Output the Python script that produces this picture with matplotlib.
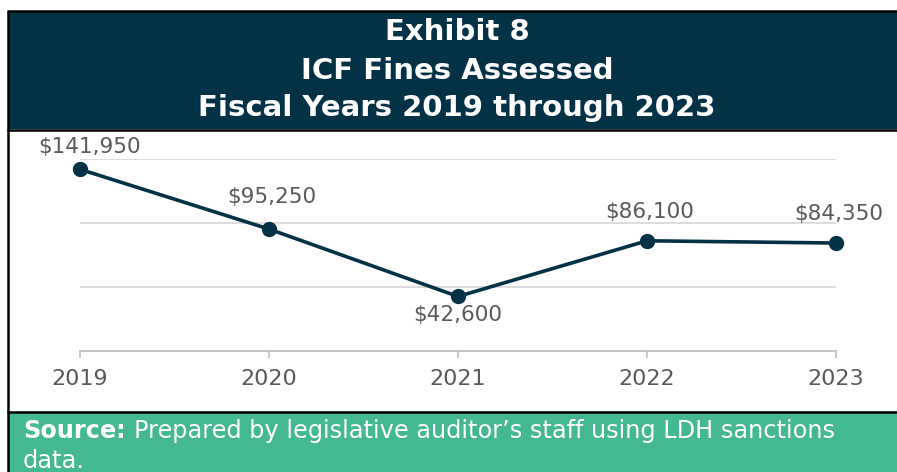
import matplotlib.pyplot as plt
from matplotlib.patches import Rectangle
from matplotlib.lines import Line2D

years = [2019, 2020, 2021, 2022, 2023]
fines = [141950, 95250, 42600, 86100, 84350]
labels = ["$141,950", "$95,250", "$42,600", "$86,100", "$84,350"]
# label offsets in points (dx, dy) relative to each marker
offsets = [(7, 16), (2, 23), (0, -13), (2, 21), (2, 21)]

W, H = 897, 472
navy = "#033247"
green = "#43B892"
grey_txt = "#595959"

fig = plt.figure(figsize=(W / 100, H / 100), dpi=100)

def fx(px):
    return px / W

def fy(py):
    return 1 - py / H

# header band, body, source band
fig.patches.append(Rectangle((fx(8), fy(129)), 1, fy(11) - fy(129), transform=fig.transFigure,
                             facecolor=navy, edgecolor="none", zorder=0))
fig.patches.append(Rectangle((fx(8), 0), 1, fy(412), transform=fig.transFigure,
                             facecolor=green, edgecolor="none", zorder=0))
for y in (10.5, 129.5, 411.5):
    fig.add_artist(Line2D([fx(7), 1], [fy(y), fy(y)], transform=fig.transFigure,
                          color="black", lw=1.8, solid_capstyle="butt"))
fig.add_artist(Line2D([fx(8), fx(8)], [0, fy(10.5)], transform=fig.transFigure,
                      color="black", lw=1.8, solid_capstyle="butt"))

title_lines = ["Exhibit 8", "ICF Fines Assessed", "Fiscal Years 2019 through 2023"]
for t, y in zip(title_lines, [32, 71, 108]):
    fig.text(fx(457), fy(y), t, ha="center", va="center", color="white",
             fontsize=21, fontweight="bold")

ax = fig.add_axes([fx(80), fy(351), fx(836) - fx(80), fy(159) - fy(351)])
ax.plot(years, fines, color=navy, lw=2.6, marker="o", markersize=10, clip_on=False, zorder=3)
ax.set_xlim(2019, 2023)
ax.set_ylim(0, 150000)
ax.set_yticks([50000, 100000, 150000])
ax.yaxis.grid(True, color="#d9d9d9", lw=1.3)
ax.tick_params(axis="y", left=False, labelleft=False)
ax.set_xticks(years)
ax.set_xticklabels([str(y) for y in years])
ax.tick_params(axis="x", direction="out", length=5, width=1.2, color="#bfbfbf",
               labelsize=16, labelcolor=grey_txt, pad=8)
for s in ("top", "left", "right"):
    ax.spines[s].set_visible(False)
ax.spines["bottom"].set_color("#bfbfbf")
ax.spines["bottom"].set_linewidth(1.3)
ax.set_facecolor("none")

for x, y, lab, (dx, dy) in zip(years, fines, labels, offsets):
    ax.annotate(lab, (x, y), xytext=(dx, dy), textcoords="offset points",
                ha="center", va="center", fontsize=15.5, color=grey_txt, annotation_clip=False)

fig.text(fx(23), fy(431), "Source:", ha="left", va="center", color="white",
         fontsize=17.3, fontweight="bold")
fig.text(fx(134), fy(431), "Prepared by legislative auditor\u2019s staff using LDH sanctions",
         ha="left", va="center", color="white", fontsize=17.3)
fig.text(fx(23), fy(461), "data.", ha="left", va="center", color="white", fontsize=17.3)

fig.savefig("out.png", dpi=100)
